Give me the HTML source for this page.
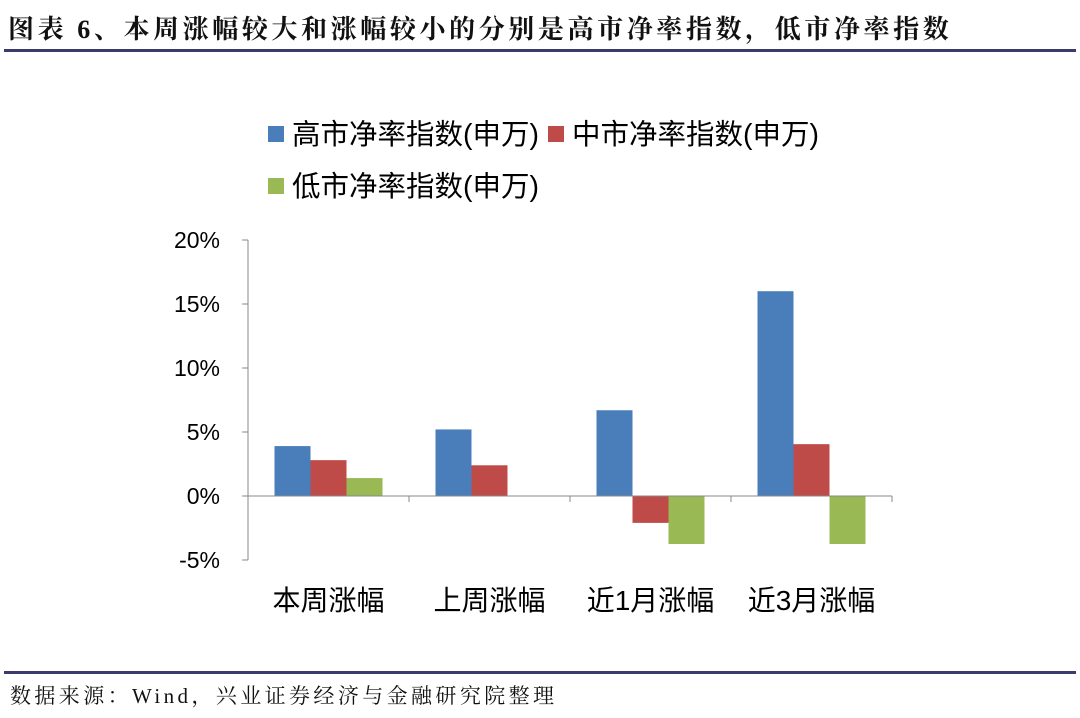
<!DOCTYPE html>
<html><head><meta charset="utf-8"><style>
body{margin:0;width:1080px;height:718px;background:#fff;overflow:hidden;position:relative;font-family:"Liberation Sans","Noto Sans CJK SC",sans-serif}
.t{position:absolute;left:8px;top:9px;font:bold 26px "Liberation Serif","Noto Serif CJK SC",serif;letter-spacing:3.6px;color:#111;white-space:nowrap}
.ln{position:absolute;left:4px;width:1072px;height:3px;background:#3b3b6b}
.f{position:absolute;left:10px;top:680px;font:21px "Liberation Serif","Noto Serif CJK SC",serif;color:#111;white-space:nowrap;letter-spacing:3.4px}
</style></head><body>
<div class="t">图表 6、本周涨幅较大和涨幅较小的分别是高市净率指数，低市净率指数</div>
<div class="ln" style="top:49px"></div>
<div class="ln" style="top:671px"></div>
<div class="f">数据来源：Wind，兴业证券经济与金融研究院整理</div>
<svg id="c" width="1080" height="718" style="position:absolute;left:0;top:0"></svg>
<script>
const categories=["本周涨幅","上周涨幅","近1月涨幅","近3月涨幅"];
const seriesNames=["高市净率指数(申万)","中市净率指数(申万)","低市净率指数(申万)"];
const highPB=[3.9,5.2,6.7,16.0];
const midPB=[2.8,2.4,-2.1,4.05];
const lowPB=[1.4,0,-3.75,-3.75];
const tickValues=[20,15,10,5,0,-5];
const colors=["#4a7ebb","#be4b48","#98b954"];
const NS="http://www.w3.org/2000/svg";
const svg=document.getElementById('c');
const x0=248,x1=892,catW=(x1-x0)/categories.length,barW=36;
function y(v){return 496-v*12.8;}
function mk(t,a){const e=document.createElementNS(NS,t);for(const k in a)e.setAttribute(k,a[k]);svg.appendChild(e);return e;}
tickValues.forEach(v=>{
  const tx=mk('text',{x:220,y:y(v)+8,'text-anchor':'end','font-size':23,fill:'#000','font-family':'Liberation Sans,sans-serif'});
  tx.textContent=v+'%';
  
  
  const tk=mk('line',{x1:x0-6,x2:x0,y1:y(v),y2:y(v),stroke:'#888','stroke-width':1});
  
  
});
const ya=mk('line',{x1:x0,x2:x0,y1:y(20),y2:y(-5),stroke:'#888','stroke-width':1});


const series=[highPB,midPB,lowPB];
categories.forEach((c,i)=>{
  const cx=x0+catW*(i+0.5);
  series.forEach((s,j)=>{
    const v=s[i];
    const r=mk('rect',{x:cx-1.5*barW+j*barW,y:Math.min(y(v),y(0)),width:barW,height:Math.abs(y(v)-y(0)),fill:colors[j]});
    
    
  });
  const t=mk('text',{x:cx,y:610,'text-anchor':'middle','font-size':28,fill:'#000','font-family':'Liberation Sans,Noto Sans CJK SC,sans-serif'});
  t.textContent=c;
  
  
});
const xa=mk('line',{x1:x0,x2:x1,y1:y(0),y2:y(0),stroke:'#888','stroke-width':1});


for(let i=0;i<=categories.length;i++){
  const tk=mk('line',{x1:x0+catW*i,x2:x0+catW*i,y1:y(0),y2:y(0)+6,stroke:'#888','stroke-width':1});
  
  
}
const legPos=[[268,134],[548,134],[268,186]];
seriesNames.forEach((n,j)=>{
  const r=mk('rect',{x:legPos[j][0],y:legPos[j][1]-8,width:16,height:16,fill:colors[j]});
  
  
  const t=mk('text',{x:legPos[j][0]+24,y:legPos[j][1]+10,'font-size':28.5,fill:'#000','font-family':'Liberation Sans,Noto Sans CJK SC,sans-serif'});
  t.textContent=n;
  
  
});
</script>
</body></html>
